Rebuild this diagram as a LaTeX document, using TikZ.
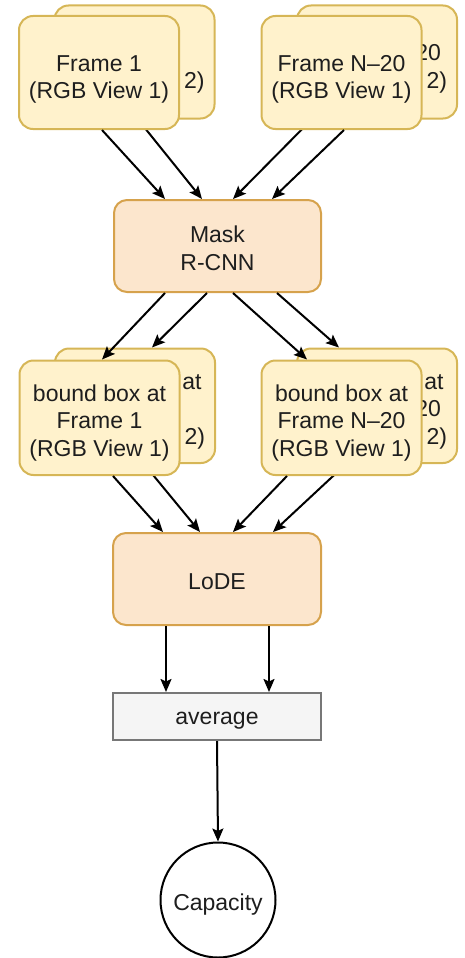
\documentclass[tikz,border=0pt]{standalone}
\usepackage{fontspec}
\setmainfont{Liberation Sans}
\usetikzlibrary{arrows.meta,calc}
\definecolor{frameFill}{HTML}{FFF2CC}
\definecolor{frameLine}{HTML}{D6B656}
\definecolor{procFill}{HTML}{FCE6CD}
\definecolor{procLine}{HTML}{D6A24C}
\definecolor{avgFill}{HTML}{F5F5F5}
\definecolor{avgLine}{HTML}{777777}
\definecolor{ink}{HTML}{1E1E1E}
\tikzset{
  txt/.style={font=\fontsize{23}{27.5}\selectfont, text=ink, align=center, inner sep=0pt},
  framebox/.style={draw=frameLine, fill=frameFill, line width=2pt, rounded corners=14pt,
    minimum width=160pt, minimum height=113pt, inner sep=0pt},
  boundbox/.style={framebox, minimum height=114.5pt},
  procbox/.style={draw=procLine, fill=procFill, line width=2pt, rounded corners=13pt,
    minimum width=207pt, minimum height=92pt, inner sep=0pt},
  avgbox/.style={draw=avgLine, fill=avgFill, line width=2pt,
    minimum width=208pt, minimum height=47pt, inner sep=0pt},
  capnode/.style={circle, draw=black, fill=white, line width=2pt, minimum size=115pt, inner sep=0pt},
  flow/.style={draw=black, line width=2pt, -{Stealth[length=13pt,width=11pt,inset=2.5pt]}}
}
\begin{document}
\begin{tikzpicture}[x=1pt,y=-1pt]
\useasboundingbox (0,0) rectangle (464,958);

% second views (drawn behind)
\node[framebox, label={[txt, name=f1b-t, yshift=-7pt]center:{Frame 1\\(RGB View 2)}}] (f1b) at (134.5,62) {};
\node[framebox, label={[txt, name=fNb-t, yshift=-7pt]center:{Frame N--20\\(RGB View 2)}}] (fNb) at (377,62) {};
\node[boundbox, label={[txt, name=b1b-t, yshift=-5pt]center:{bound box at\\Frame 1\\(RGB View 2)}}] (b1b) at (135,405.75) {};
\node[boundbox, label={[txt, name=bNb-t, yshift=-5pt]center:{bound box at\\Frame N--20\\(RGB View 2)}}] (bNb) at (377,405.75) {};

% processing steps
\node[procbox, label={[txt, name=mask-t, yshift=-2.5pt]center:{Mask\\R-CNN}}] (mask) at (217.5,246) {};
\node[procbox, minimum width=208pt, label={[txt, name=lode-t, yshift=-2.5pt]center:{LoDE}}] (lode) at (217,579) {};
\node[avgbox, label={[txt, name=avg-t, yshift=-4pt]center:{average}}] (avg) at (217,716.5) {};
\node[capnode, label={[txt, name=cap-t, yshift=-5pt]center:{Capacity}}] (cap) at (218,900) {};

% connectors leaving the second views (partly covered by the first views)
\draw[flow] ([xshift=3.5pt]f1b.south) -- ([xshift=-15.5pt]mask.north);
\draw[flow] ([xshift=-65.4pt]fNb.south) -- ([xshift=15.5pt]mask.north);
\draw[flow] ([xshift=9pt]b1b.south) -- ([xshift=-17pt]lode.north);
\draw[flow] ([xshift=-31pt]bNb.south) -- ([xshift=56pt]lode.north);

% first views
\node[framebox, label={[txt, name=f1-t, yshift=-7pt]center:{Frame 1\\(RGB View 1)}}] (f1) at (99,72.5) {};
\node[framebox, label={[txt, name=fN-t, yshift=-7pt]center:{Frame N--20\\(RGB View 1)}}] (fN) at (341.5,72.5) {};
\node[boundbox, label={[txt, name=b1-t, yshift=-5pt]center:{bound box at\\Frame 1\\(RGB View 1)}}] (b1) at (99.5,417.75) {};
\node[boundbox, label={[txt, name=bN-t, yshift=-5pt]center:{bound box at\\Frame N--20\\(RGB View 1)}}] (bN) at (341.5,417.75) {};

% remaining connectors
\draw[flow] ([xshift=3pt]f1.south) -- ([xshift=-52.5pt]mask.north);
\draw[flow] ([xshift=2.5pt]fN.south) -- ([xshift=54.5pt]mask.north);

\draw[flow] ([xshift=-52.5pt]mask.south) -- ([xshift=2.5pt]b1.north);
\draw[flow] ([xshift=-10.5pt]mask.south) -- ([xshift=17pt]b1b.north);
\draw[flow] ([xshift=15.5pt]mask.south) -- ([xshift=-34.5pt]bN.north);
\draw[flow] ([xshift=59.5pt]mask.south) -- ([xshift=-38pt]bNb.north);

\draw[flow] ([xshift=13.5pt]b1.south) -- ([xshift=-54pt]lode.north);
\draw[flow] ([xshift=-54.5pt]bN.south) -- ([xshift=16pt]lode.north);

\draw[flow] ([xshift=-51pt]lode.south) -- ([xshift=-51pt]avg.north);
\draw[flow] ([xshift=52pt]lode.south) -- ([xshift=52pt]avg.north);
\draw[flow] (avg.south) -- (cap.north);
\end{tikzpicture}
\end{document}
